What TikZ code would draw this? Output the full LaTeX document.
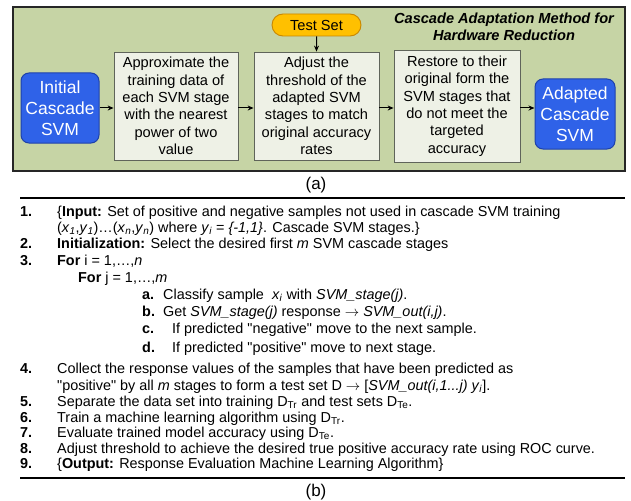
\documentclass[tikz,border=0pt]{standalone}
\usepackage{fontspec}
\setmainfont{Liberation Sans}[Ligatures=TeXOff]
\usetikzlibrary{arrows.meta,shapes.misc}
\definecolor{panelgreen}{RGB}{198,212,165}
\definecolor{boxfill}{RGB}{238,241,230}
\definecolor{boxborder}{RGB}{95,100,90}
\definecolor{bluefill}{RGB}{47,98,232}
\definecolor{blueborder}{RGB}{30,65,170}
\definecolor{testfill}{RGB}{255,192,0}
\definecolor{testborder}{RGB}{200,135,0}
\begin{document}
\begin{tikzpicture}[x=1pt,y=-1pt,
  panel/.style={draw=black!85, line width=1.5pt, fill=panelgreen},
  stepbox/.style={draw=boxborder, line width=0.8pt, fill=boxfill, align=center, inner sep=0pt, font=\fontsize{14.6}{17.4}\selectfont},
  bluebox/.style={draw=blueborder, line width=1pt, fill=bluefill, rounded corners=8pt, text=white, align=center, inner sep=0pt, font=\fontsize{17.5}{21}\selectfont},
  testbox/.style={rounded rectangle, draw=testborder, line width=0.9pt, fill=testfill, inner sep=0pt, minimum width=89pt, minimum height=22pt, font=\fontsize{14.6}{17}\selectfont},
  flow/.style={-{Stealth[length=6pt,width=5pt]}, line width=1pt},
  item/.style={anchor=base west, inner sep=0pt, font=\fontsize{14.4}{16}\selectfont},
  rule/.style={line width=1.6pt},
  caption/.style={font=\fontsize{17}{19}\selectfont, inner sep=0pt}
]
\useasboundingbox (0,0) rectangle (631,500);
% panel (a)
\draw[panel] (13,7) rectangle (625,171);
\node[bluebox, minimum width=78pt, minimum height=70pt] (init) at (60,108) {Initial\\Cascade\\SVM};
\node[stepbox, minimum width=124pt, minimum height=108pt] (s1) at (176,106) {Approximate the\\training data of\\each SVM stage\\with the nearest\\power of two\\value};
\node[stepbox, minimum width=125pt, minimum height=108pt] (s2) at (316.5,106) {Adjust the\\threshold of the\\adapted SVM\\stages to match\\original accuracy\\rates};
\node[stepbox, minimum width=126pt, minimum height=112pt] (s3) at (457,106) {Restore to their\\original form the\\SVM stages that\\do not meet the\\targeted\\accuracy};
\node[bluebox, minimum width=80pt, minimum height=70pt] (adapt) at (575,114) {Adapted\\Cascade\\SVM};
\node[testbox] (test) at (316.5,25) {Test Set};
\node[align=center, inner sep=0pt, font=\fontsize{14.6}{17}\selectfont\bfseries\itshape] (title) at (504,26.5) {Cascade Adaptation Method for\\Hardware Reduction};
\draw[flow] (init.east |- 0,108) -- (s1.west |- 0,108);
\draw[flow] (s1.east |- 0,108) -- (s2.west |- 0,108);
\draw[flow] (s2.east |- 0,108) -- (s3.west |- 0,108);
\draw[flow] (s3.east |- 0,108) -- (adapt.west |- 0,108);
\draw[flow] (test) -- (s2);
\node[caption] (capa) at (316,185) {(a)};
% panel (b)
\coordinate (r1l) at (20,198);
\coordinate (r1r) at (625,198);
\draw[rule] (r1l) -- (r1r);
\node[item] (n1) at (20,216) {\textbf{1.}};
\node[item] (t1) at (57,216) {\{\textbf{Input:} Set of positive and negative samples not used in cascade SVM training};
\node[item] (t1b) at (57,232) {(\textit{x}\textsubscript{\textit{1}},\textit{y}\textsubscript{\textit{1}})…(\textit{x}\textsubscript{\textit{n}},\textit{y}\textsubscript{\textit{n}}) where \textit{y}\textsubscript{\textit{i}} = \textit{\{-1,1\}}. Cascade SVM stages.\}};
\node[item] (n2) at (20,248) {\textbf{2.}};
\node[item] (t2) at (57,248) {\textbf{Initialization:} Select the desired first \textit{m} SVM cascade stages};
\node[item] (n3) at (20,265) {\textbf{3.}};
\node[item] (t3) at (57,265) {\textbf{For} i = 1,…,\textit{n}};
\node[item] (t3b) at (78,282) {\textbf{For} j = 1,…,\textit{m}};
\node[item] (la) at (142,299) {\textbf{a.}};
\node[item] (ta) at (163,299) {Classify sample \ \textit{x}\textsubscript{\textit{i}} with \textit{SVM\_stage(j)}.};
\node[item] (lb) at (142,316) {\textbf{b.}};
\node[item] (tb) at (163,316) {Get \textit{SVM\_stage(j)} response $\rightarrow$ \textit{SVM\_out(i,j)}.};
\node[item] (lc) at (142,333) {\textbf{c.}};
\node[item] (tc) at (172,333) {If predicted "negative" move to the next sample.};
\node[item] (ld) at (142,352) {\textbf{d.}};
\node[item] (td) at (172,352) {If predicted "positive" move to next stage.};
\node[item] (n4) at (20,373) {\textbf{4.}};
\node[item] (t4) at (57,373) {Collect the response values of the samples that have been predicted as};
\node[item] (t4b) at (57,390) {"positive" by all \textit{m} stages to form a test set D $\rightarrow$ [\textit{SVM\_out(i,1...j) y}\textsubscript{\textit{i}}].};
\node[item] (n5) at (20,406) {\textbf{5.}};
\node[item] (t5) at (57,406) {Separate the data set into training D\textsubscript{Tr} and test sets D\textsubscript{Te}.};
\node[item] (n6) at (20,422) {\textbf{6.}};
\node[item] (t6) at (57,422) {Train a machine learning algorithm using D\textsubscript{Tr}.};
\node[item] (n7) at (20,437) {\textbf{7.}};
\node[item] (t7) at (57,437) {Evaluate trained model accuracy using D\textsubscript{Te}.};
\node[item] (n8) at (20,453) {\textbf{8.}};
\node[item] (t8) at (57,453) {Adjust threshold to achieve the desired true positive accuracy rate using ROC curve.};
\node[item] (n9) at (20,468) {\textbf{9.}};
\node[item] (t9) at (57,468) {\{\textbf{Output:} Response Evaluation Machine Learning Algorithm\}};
\coordinate (r2l) at (20,478);
\coordinate (r2r) at (625,478);
\draw[rule] (r2l) -- (r2r);
\node[caption] (capb) at (316,492) {(b)};
\end{tikzpicture}
\end{document}
